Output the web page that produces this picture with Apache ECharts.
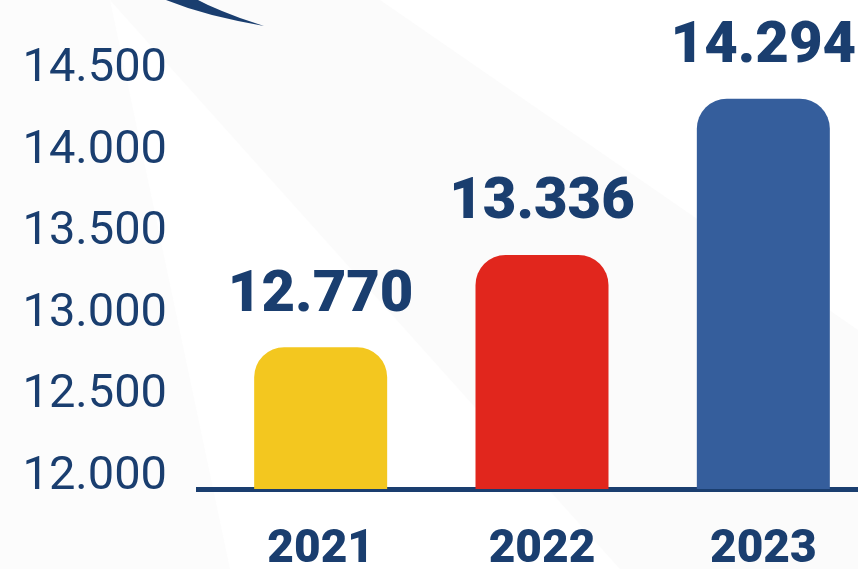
<!DOCTYPE html>
<html>
<head>
<meta charset="utf-8">
<script src="https://cdn.jsdelivr.net/npm/echarts@6/dist/echarts.min.js"></script>
<style>
html,body{margin:0;padding:0;background:#ffffff;}
#chart{width:858px;height:569px;}
</style>
</head>
<body>
<div id="chart"></div>
<script>
var years = ['2021', '2022', '2023'];
var values = [12770, 13336, 14294];
var barColors = ['#F3C71F', '#E1261D', '#355E9C'];
var yTickStep = 500;

var navy = '#1A3E6F';
function fmt(v) {
  var s = String(Math.round(v));
  return s.replace(/\B(?=(\d{3})+(?!\d))/g, '.');
}

var chart = echarts.init(document.getElementById('chart'), null, {renderer: 'canvas'});
chart.setOption({
  backgroundColor: '#ffffff',
  animation: false,
  graphic: [
    {type: 'polygon', silent: true, z: -10,
      shape: {points: [[110, 0], [380, 0], [858, 330], [858, 569], [620, 569]]},
      style: {fill: '#FBFBFB'}},
    {type: 'polygon', silent: true, z: -10,
      shape: {points: [[0, 0], [110, 0], [230, 569], [0, 569]]},
      style: {fill: '#FCFCFC'}},
    {type: 'polygon', silent: true, z: 10,
      shape: {points: [[166, 0], [188, 8], [212, 15], [238, 21], [264, 26],
                       [240, 18], [222, 11], [208, 5], [198, 0]]},
      style: {fill: navy}},
    {type: 'rect', silent: true, z: 10,
      shape: {x: 196, y: 487, width: 22, height: 5},
      style: {fill: navy}}
  ],
  grid: {left: 210, width: 664, top: 0, bottom: 80, containLabel: false,
         outerBoundsMode: 'none'},
  xAxis: {
    type: 'category',
    data: years,
    axisLine: {show: true, lineStyle: {color: navy, width: 5}},
    axisTick: {show: false},
    axisLabel: {
      color: navy, fontFamily: 'Roboto', fontWeight: 900, fontSize: 46,
      margin: 38
    }
  },
  yAxis: {
    type: 'value',
    min: 11900,
    max: 14900,
    interval: 100,
    splitLine: {show: false},
    axisLine: {show: false},
    axisTick: {show: false},
    axisLabel: {
      margin: 43,
      formatter: function (v) { return (v % yTickStep === 0) ? '{t|' + fmt(v) + '}' : ''; },
      rich: {
        t: {color: navy, fontFamily: 'Roboto', fontWeight: 400, fontSize: 47,
            padding: [9, 0, 0, 0]}
      }
    }
  },
  series: [{
    type: 'bar',
    data: values.map(function (v, i) {
      return {value: v, itemStyle: {color: barColors[i]}};
    }),
    barWidth: 133,
    itemStyle: {borderRadius: [30, 30, 0, 0]},
    label: {
      show: true,
      position: 'top',
      distance: 22,
      color: navy,
      fontFamily: 'Roboto',
      fontWeight: 900,
      fontSize: 58,
      formatter: function (p) { return fmt(p.value); }
    }
  }]
});
</script>
</body>
</html>
